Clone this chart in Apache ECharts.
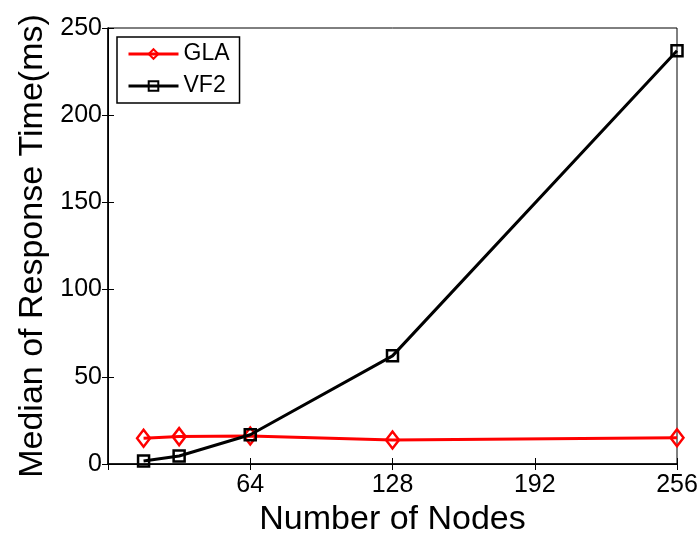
<!DOCTYPE html>
<html>
<head>
<meta charset="utf-8">
<script src="https://cdn.jsdelivr.net/npm/echarts@6/dist/echarts.min.js"></script>
<style>
  html, body { margin: 0; padding: 0; background: #fff; }
  #chart { width: 699px; height: 536px; }
</style>
</head>
<body>
<div id="chart"></div>
<script>
// data
var nodes = [16, 32, 64, 128, 256];
var glaTimes = [14.8, 15.7, 16.0, 13.8, 15.0];
var vf2Times = [1.7, 4.6, 16.8, 62, 237];
var xTicks = [64, 128, 192, 256];

var myChart = echarts.init(document.getElementById('chart'));

function pairs(xs, ys) {
    return xs.map(function (x, i) { return [x, ys[i]]; });
}

var font = 'Liberation Sans, Arial, sans-serif';

var option = {
    animation: false,
    backgroundColor: '#fff',
    grid: {
        left: 108, right: 22, top: 28, bottom: 72,
        outerBoundsMode: 'none',
        containLabel: false,
        show: true, borderColor: '#000', borderWidth: 1
    },
    legend: {
        left: 117, top: 37,
        orient: 'vertical',
        itemWidth: 50, itemHeight: 12, itemGap: 8,
        padding: [5, 10, 5, 10],
        borderColor: '#000', borderWidth: 1.5,
        backgroundColor: '#fff',
        lineStyle: { width: 3 },
        textStyle: { fontFamily: font, fontSize: 23, lineHeight: 24, color: '#000' },
        data: ['GLA', 'VF2']
    },
    xAxis: [{
        type: 'value', min: 0, max: 256, interval: 64,
        name: 'Number of Nodes', nameLocation: 'middle', nameGap: 34,
        nameTextStyle: { fontFamily: font, fontSize: 34, color: '#000', verticalAlign: 'top' },
        axisLine: { lineStyle: { color: '#000', width: 1.5 } },
        axisTick: { inside: true, length: 6, lineStyle: { color: '#000' } },
        axisLabel: {
            fontFamily: font, fontSize: 25, color: '#000', margin: 9,
            formatter: function (v) { return xTicks.indexOf(v) >= 0 ? v : ''; }
        },
        splitLine: { show: false }
    }, {
        type: 'value', min: 0, max: 256, interval: 64, position: 'top',
        axisLine: { lineStyle: { color: '#000' } },
        axisTick: { inside: true, length: 6, lineStyle: { color: '#000' } },
        axisLabel: { show: false }, splitLine: { show: false }
    }],
    yAxis: [{
        type: 'value', min: 0, max: 250, interval: 50,
        name: 'Median of Response Time(ms)', nameLocation: 'middle', nameGap: 58,
        nameTextStyle: { fontFamily: font, fontSize: 34, color: '#000' },
        axisLine: { show: true, lineStyle: { color: '#000', width: 1.5 } },
        axisTick: { show: true, inside: true, length: 6, lineStyle: { color: '#000' } },
        axisLabel: { fontFamily: font, fontSize: 25, color: '#000', margin: 6 },
        splitLine: { show: false }
    }, {
        type: 'value', min: 0, max: 250, interval: 50, position: 'right',
        axisLine: { show: true, lineStyle: { color: '#000' } },
        axisTick: { show: true, inside: true, length: 6, lineStyle: { color: '#000' } },
        axisLabel: { show: false }, splitLine: { show: false }
    }],
    series: [{
        name: 'GLA',
        type: 'line',
        data: pairs(nodes, glaTimes),
        symbol: 'diamond',
        symbolSize: [13, 17],
        lineStyle: { color: '#ff0000', width: 3 },
        itemStyle: { color: 'rgba(255,255,255,0)', borderColor: '#ff0000', borderWidth: 2.5 },
        z: 3
    }, {
        name: 'VF2',
        type: 'line',
        data: pairs(nodes, vf2Times),
        symbol: 'rect',
        symbolSize: 11,
        lineStyle: { color: '#000', width: 3 },
        itemStyle: { color: 'rgba(255,255,255,0)', borderColor: '#000', borderWidth: 2.5 },
        z: 4
    }]
};

myChart.setOption(option);
</script>
</body>
</html>
